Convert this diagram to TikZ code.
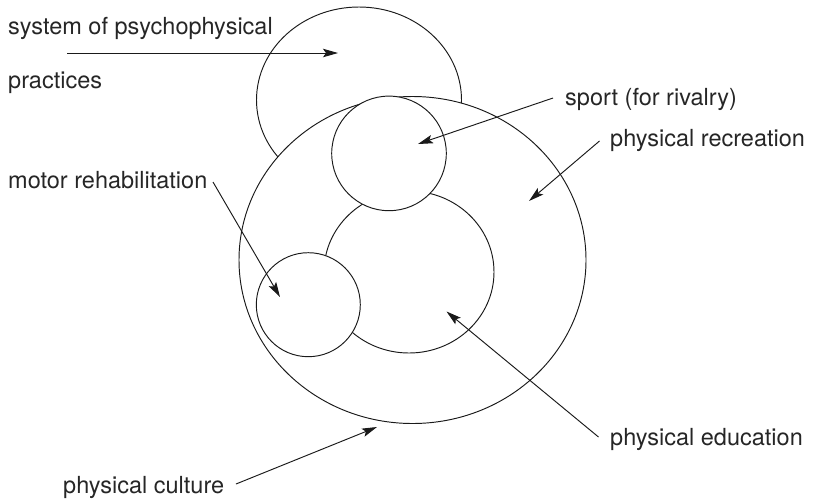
\documentclass[tikz,border=0pt]{standalone}
\usepackage{fontspec}
\setmainfont{TeX Gyre Heros}
\usetikzlibrary{arrows.meta,shapes.geometric}
\definecolor{ink}{HTML}{1A1A1A}
\definecolor{txt}{HTML}{262626}
\begin{document}
\begin{tikzpicture}[x=1pt,y=-1pt,
  shapeline/.style={draw=ink, line width=0.95pt, inner sep=0pt, outer sep=0pt},
  blob/.style={shapeline, ellipse},
  disc/.style={shapeline, circle, fill=white},
  arr/.style={draw=ink, line width=0.95pt, -{Stealth[length=15pt,width=8.5pt,inset=3pt]}},
  lbl/.style={anchor=base west, inner sep=0pt, text=txt, font=\fontsize{23.5}{28}\selectfont}]
\useasboundingbox (0,0) rectangle (813,501);
% shapes
\node[blob, minimum width=205pt, minimum height=186pt] (spp) at (359,100) {};
\node[blob, fill=white, minimum width=347pt, minimum height=327pt] (pc) at (412.5,260) {};
\node[blob, minimum width=170pt, minimum height=162pt] (pe) at (409,272) {};
\node[disc, minimum size=114.6pt] (sp) at (389,153.4) {};
\node[disc, minimum size=104pt] (mr) at (308.3,304.7) {};
% labels
\node[lbl] (t1) at (8,34) {system of psychophysical};
\node[lbl] (t1b) at (8,88) {practices};
\node[lbl] (t2) at (565,105.5) {sport (for rivalry)};
\node[lbl] (t3) at (610,146.5) {physical recreation};
\node[lbl] (t4) at (8,188) {motor rehabilitation};
\node[lbl] (t5) at (610,445) {physical education};
\node[lbl] (t6) at (63,493) {physical culture};
% arrow end points
\coordinate (a1s) at (67,53);    \coordinate (a1t) at (338,53);
\coordinate (a2s) at (553,98);   \coordinate (a2t) at (418,144);
\coordinate (a3s) at (599.5,141);\coordinate (a3t) at (529,201);
\coordinate (a4s) at (213,182);  \coordinate (a4t) at (280,297);
\coordinate (a5s) at (598.5,437);\coordinate (a5t) at (446.5,311.5);
\coordinate (a6s) at (236,484);  \coordinate (a6t) at (377,427);
% arrows
\draw[arr] (a1s) -- (a1t);
\draw[arr] (a2s) -- (a2t);
\draw[arr] (a3s) -- (a3t);
\draw[arr] (a4s) -- (a4t);
\draw[arr] (a5s) -- (a5t);
\draw[arr] (a6s) -- (a6t);
\end{tikzpicture}
\end{document}
